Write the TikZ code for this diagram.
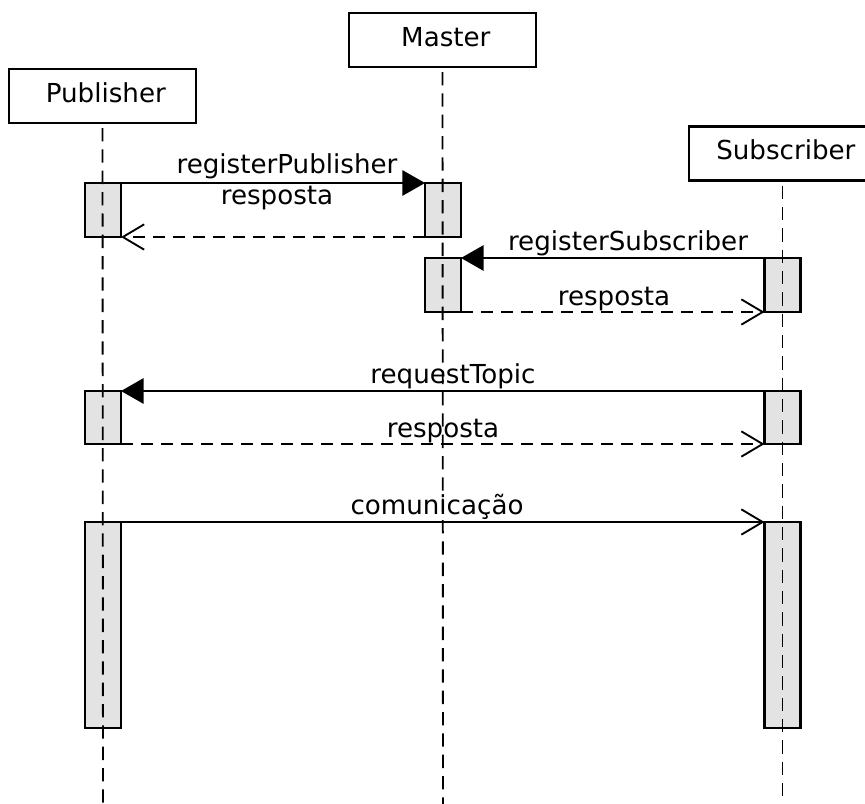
\documentclass[tikz,border=0pt]{standalone}
\usepackage{fontspec}
\setmainfont{DejaVu Sans}
\usetikzlibrary{arrows.meta}
\begin{document}
\begin{tikzpicture}[x=0.75pt,y=-0.75pt,
  txt/.style={font=\fontsize{19.6}{22}\selectfont, inner sep=0pt},
  actor/.style={draw, line width=1.6pt, rectangle, minimum width=140pt,
    minimum height=40.5pt, inner sep=0pt, text height=12pt, text depth=3pt,
    font=\fontsize{19.6}{22}\selectfont},
  bar/.style={draw, line width=1.6pt, fill=black!11, minimum width=27pt,
    inner sep=0pt, outer sep=0pt},
  life/.style={line width=1.4pt, dash pattern=on 10pt off 6pt, shorten <=3pt},
  call/.style={line width=1.6pt, -{Triangle[length=17pt,width=19pt]}},
  reply/.style={line width=1.6pt, dash pattern=on 9pt off 6pt,
    -{Straight Barb[length=16pt,width=19pt,line width=1.4pt]}},
  async/.style={line width=1.6pt,
    -{Straight Barb[length=16pt,width=19pt,line width=1.4pt]}}]
\clip (0,0) rectangle (865,804);
\fill[white] (0,0) rectangle (865,804);

% participants
\node[actor] (pub) at (102.5,96) {\hspace*{5pt}Publisher};
\node[actor] (mas) at (442.5,40) {\hspace*{5pt}Master};
\node[actor] (sub) at (782.5,153.5) {\hspace*{5pt}Subscriber};

% lifeline ends
\coordinate (pubend) at (103,806);
\coordinate (masend) at (443,806);
\coordinate (subend) at (782.5,806);

% activation bars
\node[bar, minimum height=40.5pt] (pb1) at (103,210) {};
\node[bar, minimum height=40.5pt] (mb1) at (443,210) {};
\node[bar, minimum height=40.5pt] (mb2) at (443,285) {};
\node[bar, minimum height=40.5pt] (sb1) at (782.5,285) {};
\node[bar, minimum height=39.75pt] (pb2) at (103,417.5) {};
\node[bar, minimum height=39.75pt] (sb2) at (782.5,417.5) {};
\node[bar, minimum height=154.5pt] (pb3) at (103,625) {};
\node[bar, minimum height=154.5pt] (sb3) at (782.5,625) {};

% lifelines
\draw[life] (pub.south) -- (pubend);
\draw[life] (mas.south) -- (masend);
\draw[life] (sub.south) -- (subend);

% messages
\draw[call]  (pb1.north east) -- (mb1.north west);
\draw[reply] (mb1.south west) -- (pb1.south east);
\draw[call]  (sb1.north west) -- (mb2.north east);
\draw[reply] (mb2.south east) -- (sb1.south west);
\draw[call]  (sb2.north west) -- (pb2.north east);
\draw[reply] (pb2.south east) -- (sb2.south west);
\draw[async] (pb3.north east) -- (sb3.north west);

% message labels
\node[txt, anchor=base] (l1) at (287,173) {registerPublisher};
\node[txt, anchor=base] (l2) at (277,204) {resposta};
\node[txt, anchor=base] (l3) at (628,250) {registerSubscriber};
\node[txt, anchor=base] (l4) at (614,305) {resposta};
\node[txt, anchor=base] (l5) at (453,383) {requestTopic};
\node[txt, anchor=base] (l6) at (443,437) {resposta};
\node[txt, anchor=base] (l7) at (437,514) {comunicação};
\end{tikzpicture}
\end{document}
